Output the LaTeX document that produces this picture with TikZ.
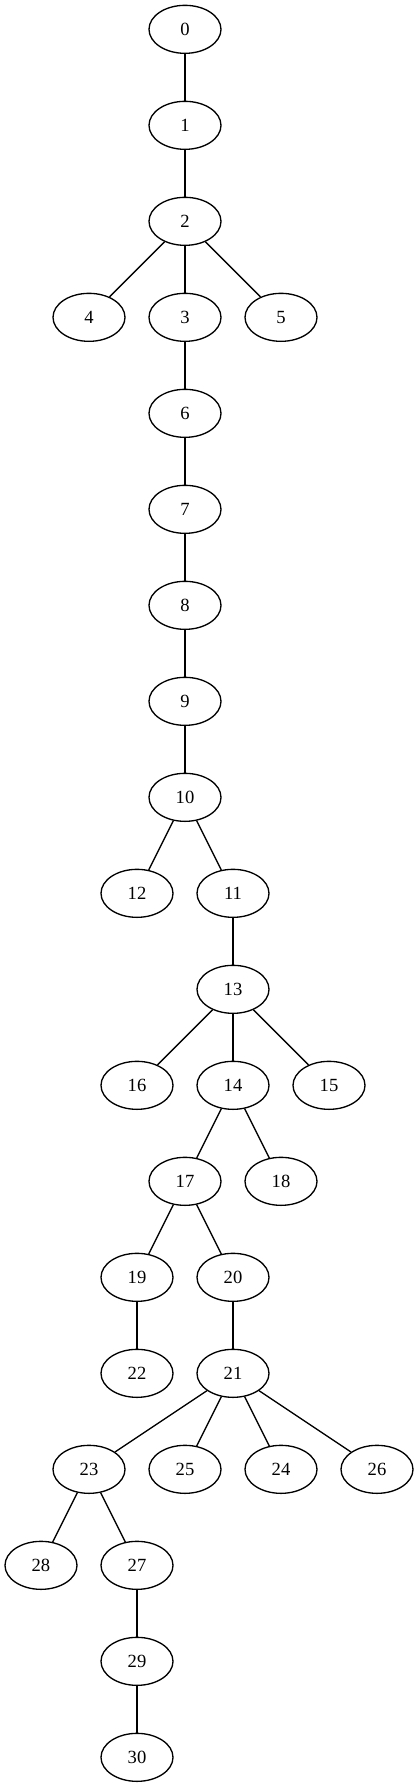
\documentclass[tikz,border=0pt]{standalone}
\usepackage{fontspec}
\setmainfont{Liberation Serif}
\usetikzlibrary{shapes.geometric}

\begin{document}
\begin{tikzpicture}[-,line width=1bp,node distance=72bp,
                    tree node/.style={ellipse,draw,minimum width=54bp,minimum height=36bp,
                                      inner sep=0pt,font=\fontsize{14}{16}\selectfont}]
  \useasboundingbox (0,0) rectangle (314.25bp,-1340.25bp);
  \node[tree node] (n0) at (138.75bp,-22bp) {0};
  \node[tree node] (n1) [below of=n0] {1};
  \node[tree node] (n2) [below of=n1] {2};
  \node[tree node] (n4) [below of=n2,xshift=-72bp] {4};
  \node[tree node] (n3) [below of=n2] {3};
  \node[tree node] (n5) [below of=n2,xshift=72bp] {5};
  \node[tree node] (n6) [below of=n3] {6};
  \node[tree node] (n7) [below of=n6] {7};
  \node[tree node] (n8) [below of=n7] {8};
  \node[tree node] (n9) [below of=n8] {9};
  \node[tree node] (n10) [below of=n9] {10};
  \node[tree node] (n12) [below of=n10,xshift=-36bp] {12};
  \node[tree node] (n11) [below of=n10,xshift=36bp] {11};
  \node[tree node] (n13) [below of=n11] {13};
  \node[tree node] (n16) [below of=n13,xshift=-72bp] {16};
  \node[tree node] (n14) [below of=n13] {14};
  \node[tree node] (n15) [below of=n13,xshift=72bp] {15};
  \node[tree node] (n17) [below of=n14,xshift=-36bp] {17};
  \node[tree node] (n18) [below of=n14,xshift=36bp] {18};
  \node[tree node] (n19) [below of=n17,xshift=-36bp] {19};
  \node[tree node] (n20) [below of=n17,xshift=36bp] {20};
  \node[tree node] (n22) [below of=n19] {22};
  \node[tree node] (n21) [below of=n20] {21};
  \node[tree node] (n23) [below of=n21,xshift=-108bp] {23};
  \node[tree node] (n25) [below of=n21,xshift=-36bp] {25};
  \node[tree node] (n24) [below of=n21,xshift=36bp] {24};
  \node[tree node] (n26) [below of=n21,xshift=108bp] {26};
  \node[tree node] (n28) [below of=n23,xshift=-36bp] {28};
  \node[tree node] (n27) [below of=n23,xshift=36bp] {27};
  \node[tree node] (n29) [below of=n27] {29};
  \node[tree node] (n30) [below of=n29] {30};

  \path
    (n0)
        edge (n1)
    (n1)
        edge (n2)
    (n2)
        edge (n4)
        edge (n3)
        edge (n5)
    (n3)
        edge (n6)
    (n6)
        edge (n7)
    (n7)
        edge (n8)
    (n8)
        edge (n9)
    (n9)
        edge (n10)
    (n10)
        edge (n12)
        edge (n11)
    (n11)
        edge (n13)
    (n13)
        edge (n16)
        edge (n14)
        edge (n15)
    (n14)
        edge (n17)
        edge (n18)
    (n17)
        edge (n19)
        edge (n20)
    (n19)
        edge (n22)
    (n20)
        edge (n21)
    (n21)
        edge (n23)
        edge (n25)
        edge (n24)
        edge (n26)
    (n23)
        edge (n28)
        edge (n27)
    (n27)
        edge (n29)
    (n29)
        edge (n30)
    ;
\end{tikzpicture}
\end{document}
